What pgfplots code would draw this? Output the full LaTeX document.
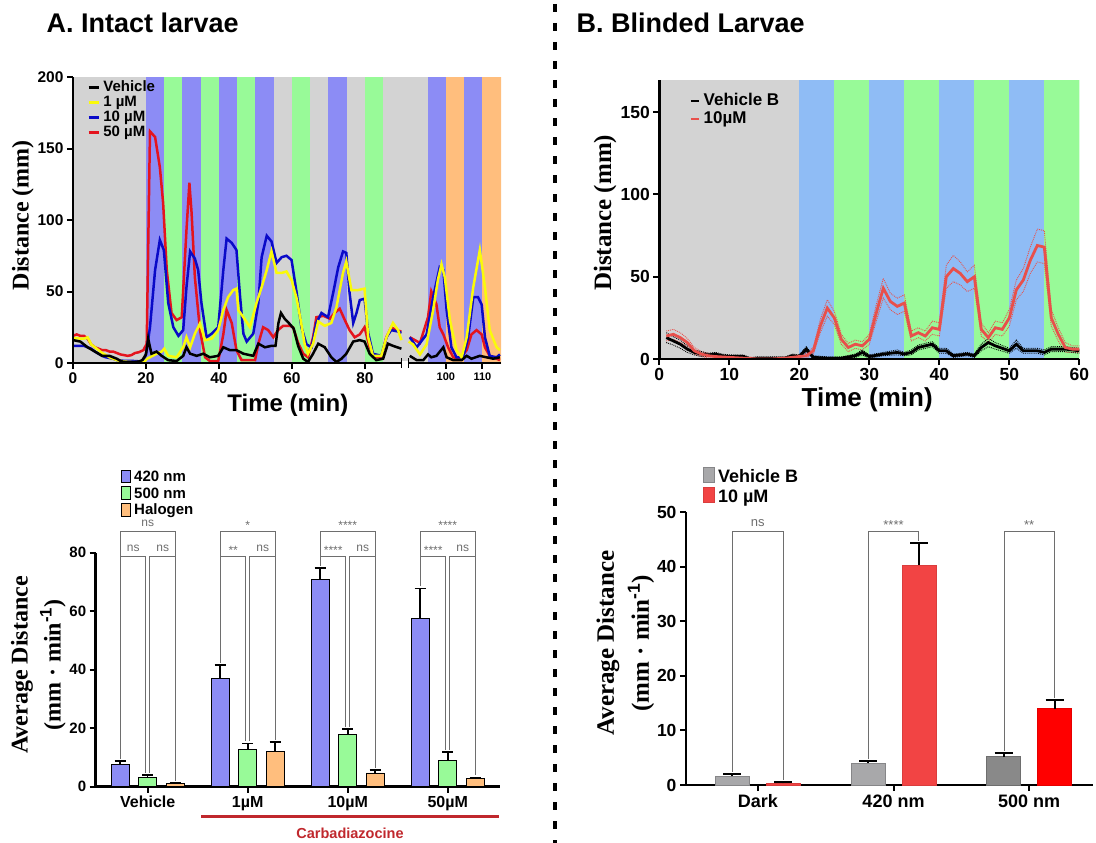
\documentclass[border=0pt]{standalone}
\usepackage{fontspec}
\setmainfont{Liberation Sans}
\newfontfamily\tnr{Liberation Serif}
\usepackage{pgfplots}
\pgfplotsset{compat=1.18}
\usepackage{pgfplotstable}

\newcommand\fs[1]{\fontsize{#1}{#1}\selectfont}

\definecolor{stblue}{RGB}{140,140,245}
\definecolor{stgreen}{RGB}{152,250,152}
\definecolor{storange}{RGB}{255,190,125}
\definecolor{stgray}{RGB}{211,211,211}
\definecolor{stblueB}{RGB}{143,188,245}
\definecolor{lnblue}{RGB}{10,10,200}
\definecolor{lnred}{RGB}{228,20,30}
\definecolor{lnyellow}{RGB}{250,250,10}
\definecolor{lnredB}{RGB}{232,80,75}
\definecolor{bargray}{RGB}{168,168,170}
\definecolor{bargrayd}{RGB}{137,137,137}
\definecolor{barred}{RGB}{242,68,68}
\definecolor{barredd}{RGB}{255,0,0}
\definecolor{carb}{RGB}{192,40,45}
\definecolor{brk}{RGB}{110,110,110}

% ---- panel A, time course (x = position on the broken axis)
\pgfplotstableread{
t v
0 16
1 15.5
2 15
3 13
4 11
5 9.5
6 8
7 6.5
8 5
9 5
10 5
11 4
12 3
13 1.5
14 0.7
16 0.7
17 0.7
18 1
19 2
20 6
20.6 17
21.5 6.5
22.9 8
24.3 5
26.1 2
28.4 1.4
30.2 5
31.1 11
32.1 6.5
33.9 5
35.7 6.5
37.5 4
39.8 5
41.2 11
43 9
44.8 9
46.7 6.5
49.4 5
50.8 13.5
52.6 11
54.4 12
55.5 12
56.3 28
57 35
58 31
59.5 27
60.5 24
61.7 12
63.1 3
64.4 0.7
65.8 6.5
67.2 13.5
69 11
70.8 4
72.2 0.7
73.6 3
74.9 6.5
76.8 15
78.6 16
79.9 15
81.3 6.5
83.1 2
85 3
86.3 13.5
87.7 12
90 10
91 nan
92.3 5
94.2 2
96 2
97.3 6
98.2 4
99.6 5
101.5 11
102.4 4
104.2 2
106.5 2
107.9 5
109.2 3
111.5 5
113.3 4
115.2 3
117 4
}\tVeh

\pgfplotstableread{
t v
0 17
1 17.5
2 17
3 17
4 18
5 13
6 11
7 9
8 7
9 5.5
10 4
11 3
12 2
14 1
16 0.7
18 0.7
19.5 0.7
20.3 3
21.1 4
22.9 6.5
24.3 8
25 10
26.1 5
28.4 4
30.2 11
31.1 18
32.1 11
33.4 20.5
34.8 27.6
36.2 16
38 17
39.8 23
41.2 37
42.5 46
43.9 51
44.8 52
45.3 37
46.7 32
48.5 25
50.3 42
51.7 53
53.1 65
54.4 78
55.8 63
57.2 63
58.5 64
59.9 58
61.3 45
62.4 30
63.5 13
64.4 6.5
65.8 13.5
67.2 29
69 26
70.8 28
72.2 39
74 63
74.9 71
76.3 51
78.1 51
79.9 52
80.9 18
82.2 5
84.5 5
85.9 18
87.7 28
89.1 23
90 16
91 nan
92 15
93.2 13
95.1 6
96.9 13
98.7 37
100 58
101 69
101.9 60
103.3 30
105.1 9
106.5 4
107.9 18
109.7 53
111.5 79
112.9 53
114.2 23
116.1 11
117 9
}\tYel

\pgfplotstableread{
t v
0 12
1 12
2 12
3 12
4 11
5 10
6 8
7 6.5
8 5
9 4
10 3.5
11 3
12 2
14 1.5
16 1.5
18 1.2
19.5 1
20.2 9
21.1 25
22.5 65
23.8 86
24.9 79
26.1 42
27.5 25
28.9 19
30.2 23
31.1 53
32.1 78
33.4 73
34.3 65
35.2 42
36.6 18
38 20.5
39.8 25
41.2 65
42.1 87
43.5 84
44.8 79
45.8 46
46.7 20.5
47.6 15
49.4 20.5
50.8 42
51.7 74
53.1 89
54.4 85
55.8 70
57.2 74
58.5 75
59.9 72
61.3 49
62.6 25
64 13
65.4 11
66.7 28
68.1 35
69.9 32
71.3 49
72.7 67
74 78
74.9 77
75.8 49
76.8 28
77.7 35
78.6 44
79.9 45
80.9 21
82.2 6.5
84.5 5
85.9 18
87.2 23
89.1 22
90 21
91 nan
92.3 18
94.2 11
96.9 20
98.7 46
100.5 67
101.5 65
102.4 37
103.7 11
105.1 4
106.9 4
108.3 18
109.7 46
111 46
112 41
112.9 18
114.2 5
116.1 4
117 6
}\tBlu

\pgfplotstableread{
t v
0 19
1 20
2 19
3 19
4 17
5 13
6 11
7 10
8 9
9 9
10 8
11 8
12 7
13 6
14 5.5
15 5
16 5.5
17 7
18 7.5
19.3 9
20.2 13.5
21.1 162
22.5 158
23.8 137
24.7 112
25.7 65
27 35
28.4 30
29.8 32
31.1 93
31.9 126
32.5 105
33.4 60
34.8 23
36.2 4
37.5 1.4
39.8 1.4
41.2 20
42.1 37
43.5 28
44.8 9
46.2 2
49.9 2
50.8 13.5
52.1 25
53.5 23
54.9 18
56.2 23
57.6 26
59.4 26
60.3 25
61.7 14
63.1 6.5
64.4 4
65.8 18
66.7 32
68.6 33
70.4 31
71.7 35
73.1 38
74.5 30
75.8 23
77.2 18
78.6 20
79.9 25
81.3 11
82.7 4
84.5 4
85.9 18
87.2 25
88.6 23
90 22
91 nan
92.3 18
95.1 14
97.3 32
98.2 50
99.6 41
100.5 25
101.5 20
102.8 11
104.2 4
106 3
107.9 9
109.2 20
110.6 23
112 20
112.9 11
114.2 5
116.1 3
117 2
}\tRed

% ---- panel B, time course: mean and SEM
\pgfplotstableread{
t m s
1 13 3
2 11 2.5
3 9 2.5
4 6 2
5 4 1.5
6 3 1.5
7 2.5 1
8 3 1
9 2 1
10 1.5 1
12 1.5 1
13 0 0.8
14 0.5 0.8
16 0.5 0.8
18 0.5 0.8
19 2 1
20 1.5 1
21 6 1.5
22 1 1
24 0.5 0.8
26 0.5 0.8
28 2 1
29 4 1.5
30 1.5 1
32 3 1
34 4 1.5
35 3 1
36 4 1.5
37 7 1.5
39 9 1.5
40 5 1.5
41 5 1.5
42 2 1
44 3 1
45 2 1
46 7 2
47 10 2.5
48 8 2
50 5 1.5
51 9 2.5
52 5 1.5
54 5 1.5
55 4 1.5
56 6 1.5
58 6 1.5
60 5 1.5
}\tBveh

\pgfplotstableread{
t m s
1 14 3
2 15 3
3 13 3
4 10 2.5
5 5 2
6 3 1.5
7 2 1.5
8 1.5 1
10 1 1
12 0.5 1
14 0 0.8
16 0 0.8
18 0.5 0.8
19 1 1
20 1.5 1
21 2 1.5
22 5 2
23 20 4
24 31 5
25 25 4
26 12 3
27 7 2.5
28 9 2.5
29 8 2.5
30 12 3
31 28 5
32 43 6
33 35 5
34 32 5
35 34 5
36 14 3
37 16 3
38 14 3
39 19 4
40 18 4
41 50 7
42 55 8
43 52 7
44 47 6
45 50 7
46 18 4
47 13 3
48 19 4
49 18 4
50 25 5
51 42 6
52 48 7
53 60 8
54 69 10
55 68 10
56 25 5
57 15 4
58 7 3
59 6 2
60 6 2
}\tBten

\pgfplotsset{
  base/.style={scale only axis, axis lines=left, axis line style={-, line width=2.5pt},
    tick align=outside, major tick length=6pt, tick style={line width=2pt, black},
    /pgf/number format/assume math mode=true},
}

% light stripe: from, to, top, colour
\newcommand\stripe[4]{\addplot[draw=#4, line width=0.3pt, fill=#4, forget plot] coordinates {(#1,#3) (#2,#3)} \closedcycle;}

% brackets for panel A bars: group, tops of blue/green/orange, labels
\newcommand\st[1]{\raisebox{-3pt}{#1}}
\newcommand\brA[7]{%
  \draw[brk, line width=0.8pt] ({#1-0.27},{#2+0.8}) -- ({#1-0.27},87.4) -- ({#1+0.28},87.4) -- ({#1+0.28},{#4+0.8});
  \draw[brk, line width=0.8pt] ({#1-0.27},78.9) -- ({#1-0.02},78.9) -- ({#1-0.02},{#3+0.8});
  \draw[brk, line width=0.8pt] ({#1+0.02},{#3+0.8}) -- ({#1+0.02},78.9) -- ({#1+0.28},78.9);
  \node[anchor=base, font=\mdseries\fs{12}, text=brk] at ({#1},88.9) {#5};
  \node[anchor=base, font=\mdseries\fs{12}, text=brk] at ({#1-0.145},80.5) {#6};
  \node[anchor=base, font=\mdseries\fs{12}, text=brk] at ({#1+0.15},80.5) {#7};
}
\newcommand\brB[4]{%
  \draw[brk, line width=0.8pt] ({#1-0.1865},{#2+0.4}) -- ({#1-0.1865},46.5) -- ({#1+0.1865},46.5) -- ({#1+0.1865},{#3+0.4});
  \node[anchor=base, font=\mdseries\fs{13}, text=brk] at ({#1},47.4) {#4};
}

\begin{document}
\bfseries
\begin{tikzpicture}
\path[use as bounding box] (0,0) rectangle (1096pt,-843pt);

\node[anchor=base west, font=\bfseries\fs{27}] at (43pt,-33pt) {A. Intact larvae};
\node[anchor=base west, font=\bfseries\fs{27}] at (573pt,-33pt) {B. Blinded Larvae};
\draw[line width=3.5pt, dash pattern=on 8pt off 11pt] (555pt,-4pt) -- (555pt,-843pt);

% ---------- A: time course
\begin{axis}[base, at={(73pt,-363pt)}, anchor=south west, width=428pt, height=286pt,
  xmin=0, xmax=117.3, ymin=0, ymax=200,
  xtick={0,20,40,60,80,102.2,112.2},
  xticklabels={0,20,40,60,80,{\fs{11}100},{\fs{11}110}},
  ytick={0,50,100,150,200},
  tick label style={font=\bfseries\fs{15.5}},
  unbounded coords=jump, axis on top,
  xlabel={Time (min)},
  xlabel style={at={(axis description cs:0.502,-0.147)}, anchor=center, font=\bfseries\fs{24}},
  ylabel={Distance (mm)},
  ylabel style={at={(axis description cs:-0.117,0.517)}, anchor=center, rotate=0, font=\tnr\bfseries\fs{24}},
  legend style={draw=none, fill=none, at={(0.026,0.9965)}, anchor=north west,
    font=\bfseries\fs{15}, nodes={inner sep=0.5pt, text height=11pt, text depth=3pt}, column sep=3pt},
  legend cell align=left, reverse legend,
  legend image code/.code={\draw[#1] (0pt,0pt) -- (10pt,0pt);},
]
\stripe{0}{20}{200}{stgray}
\stripe{20}{25}{200}{stblue}
\stripe{25}{30}{200}{stgreen}
\stripe{30}{35}{200}{stblue}
\stripe{35}{40}{200}{stgreen}
\stripe{40}{45}{200}{stblue}
\stripe{45}{50}{200}{stgreen}
\stripe{50}{55}{200}{stblue}
\stripe{55}{60}{200}{stgray}
\stripe{60}{65}{200}{stgreen}
\stripe{65}{70}{200}{stgray}
\stripe{70}{75}{200}{stblue}
\stripe{75}{80}{200}{stgray}
\stripe{80}{85}{200}{stgreen}
\stripe{85}{97.2}{200}{stgray}
\stripe{97.2}{102.2}{200}{stblue}
\stripe{102.2}{107.2}{200}{storange}
\stripe{107.2}{112.2}{200}{stblue}
\stripe{112.2}{117.3}{200}{storange}
\addplot[lnred, line width=2.5pt] table[x=t, y=v] {\tRed};
\addlegendentry{50 µM}
\addplot[lnblue, line width=2.5pt] table[x=t, y=v] {\tBlu};
\addlegendentry{10 µM}
\addplot[lnyellow, line width=2.5pt] table[x=t, y=v] {\tYel};
\addlegendentry{1 µM}
\addplot[black, line width=2.5pt] table[x=t, y=v] {\tVeh};
\addlegendentry{Vehicle}
\end{axis}
% axis break
\fill[white] (401.7pt,-360.8pt) rectangle (408.3pt,-365pt);
\draw[line width=1.5pt] (401.7pt,-358pt) -- (401.7pt,-368pt);
\draw[line width=1.5pt] (408.3pt,-358pt) -- (408.3pt,-368pt);

% ---------- B: time course
\begin{axis}[base, at={(659.3pt,-359pt)}, anchor=south west, width=420pt, height=279pt,
  xmin=0, xmax=60, ymin=0, ymax=169.6,
  xtick={0,10,...,60}, ytick={0,50,100,150},
  tick label style={font=\bfseries\fs{17.5}},
  axis on top,
  xlabel={Time (min)},
  xlabel style={at={(axis description cs:0.495,-0.147)}, anchor=center, font=\bfseries\fs{26}},
  ylabel={Distance (mm)},
  ylabel style={at={(axis description cs:-0.129,0.524)}, anchor=center, font=\tnr\bfseries\fs{25}},
  legend style={draw=none, fill=none, at={(0.064,0.965)}, anchor=north west,
    font=\bfseries\fs{17}, nodes={inner sep=0.5pt, text height=13pt, text depth=4pt}, column sep=3pt},
  legend cell align=left,
  legend image code/.code={\draw[#1] (0pt,0pt) -- (8pt,0pt);},
]
\stripe{0}{20}{169.6}{stgray}
\stripe{20}{25}{169.6}{stblueB}
\stripe{25}{30}{169.6}{stgreen}
\stripe{30}{35}{169.6}{stblueB}
\stripe{35}{40}{169.6}{stgreen}
\stripe{40}{45}{169.6}{stblueB}
\stripe{45}{50}{169.6}{stgreen}
\stripe{50}{55}{169.6}{stblueB}
\stripe{55}{60}{169.6}{stgreen}
\addplot[lnredB, densely dotted, line width=0.9pt, forget plot] table[x=t, y expr=\thisrow{m}+\thisrow{s}] {\tBten};
\addplot[lnredB, densely dotted, line width=0.9pt, forget plot] table[x=t, y expr=\thisrow{m}-\thisrow{s}] {\tBten};
\addplot[black, densely dotted, line width=0.9pt, forget plot] table[x=t, y expr=\thisrow{m}+\thisrow{s}] {\tBveh};
\addplot[black, densely dotted, line width=0.9pt, forget plot] table[x=t, y expr=\thisrow{m}-\thisrow{s}] {\tBveh};
\addplot[black, line width=2.8pt] table[x=t, y=m] {\tBveh};
\addlegendentry{Vehicle B}
\addplot[lnredB, line width=2.8pt] table[x=t, y=m] {\tBten};
\addlegendentry{10µM}
\end{axis}

% ---------- A: averages
\begin{axis}[base, at={(95.7pt,-786.7pt)}, anchor=south west, width=404.3pt, height=234pt,
  ybar, xmin=-0.52, xmax=3.523, ymin=0, ymax=80, clip=false,
  xtick={0,1,2,3}, xticklabels={Vehicle,1µM,10µM,50µM},
  ytick={0,20,40,60,80},
  x tick label style={font=\bfseries\fs{16}},
  y tick label style={font=\bfseries\fs{15}},
  error bars/y dir=plus, error bars/y explicit,
  error bars/error bar style={line width=1.6pt, black},
  error bars/error mark options={rotate=90, mark size=5.5pt, line width=1.6pt, black},
  ylabel={Average Distance\\(mm · min\textsuperscript{\rmfamily -1})},
  ylabel style={at={(axis description cs:-0.142,0.52)}, anchor=center, align=center,
    font=\tnr\bfseries\fontsize{24}{33}\selectfont},
  legend style={draw=none, fill=none, at={(0.055,1.365)}, anchor=north west,
    font=\bfseries\fs{15}, nodes={inner sep=0.8pt, text height=11.5pt, text depth=3.5pt}, column sep=3pt},
  legend cell align=left,
  legend image code/.code={\draw[#1] (0pt,-5pt) rectangle (8.5pt,7.5pt);},
]
\addplot[fill=stblue, draw=black, line width=0.8pt, bar width=17.7pt, bar shift=-27.5pt]
  coordinates {(0,7.7) +- (0,1.1) (1,37) +- (0,4.6) (2,71) +- (0,3.8) (3,57.5) +- (0,10.2)};
\addlegendentry{420 nm}
\addplot[fill=stgreen, draw=black, line width=0.8pt, bar width=17.7pt, bar shift=0pt]
  coordinates {(0,3.3) +- (0,0.7) (1,12.8) +- (0,2.0) (2,18) +- (0,1.7) (3,9) +- (0,2.9)};
\addlegendentry{500 nm}
\addplot[fill=storange, draw=black, line width=0.8pt, bar width=17.7pt, bar shift=27.5pt]
  coordinates {(0,1.0) +- (0,0.3) (1,12) +- (0,3.3) (2,4.7) +- (0,1.0) (3,2.7) +- (0,0.5)};
\addlegendentry{Halogen}
\brA{0}{8.8}{4.0}{1.3}{ns}{ns}{ns}
\brA{1}{41.6}{14.8}{15.3}{\st{*}}{\st{**}}{ns}
\brA{2}{74.8}{19.7}{5.7}{\st{****}}{\st{****}}{ns}
\brA{3}{67.7}{11.9}{3.2}{\st{****}}{\st{****}}{ns}
\draw[carb, line width=3pt] (0.533,-10.26) -- (3.513,-10.26);
\node[text=carb, font=\bfseries\fs{14.5}] at (2.023,-15.9) {Carbadiazocine};
\end{axis}

% ---------- B: averages
\begin{axis}[base, at={(686pt,-785pt)}, anchor=south west, width=407pt, height=272.7pt,
  ybar, xmin=-0.529, xmax=2.47, ymin=0, ymax=50, clip=false,
  xtick={0,1,2}, xticklabels={Dark,420 nm,500 nm},
  ytick={0,10,...,50},
  x tick label style={font=\bfseries\fs{18}},
  y tick label style={font=\bfseries\fs{17.5}},
  error bars/y dir=plus, error bars/y explicit,
  error bars/error bar style={line width=1.8pt, black},
  error bars/error mark options={rotate=90, mark size=9pt, line width=1.8pt, black},
  ylabel={Average Distance\\(mm · min\textsuperscript{\rmfamily -1})},
  ylabel style={at={(axis description cs:-0.149,0.52)}, anchor=center, align=center,
    font=\tnr\bfseries\fontsize{25}{35}\selectfont},
  legend style={draw=none, fill=none, at={(0.034,1.175)}, anchor=north west,
    font=\bfseries\fs{18}, nodes={inner sep=1pt, text height=14pt, text depth=4pt}, column sep=3pt},
  legend cell align=left,
  legend image code/.code={\fill[#1] (0pt,-5pt) rectangle (10.5pt,10pt);},
]
\addplot[fill=bargray, draw=bargray!80!black, line width=0.5pt, bar width=34pt, bar shift=-25.5pt]
  coordinates {(0,1.6) +- (0,0.4) (1,4.0) +- (0,0.4)};
\addlegendentry{Vehicle B}
\addplot[fill=barred, draw=barred!90!black, line width=0.5pt, bar width=34pt, bar shift=25.5pt]
  coordinates {(0,0.3) +- (0,0.2) (1,40.3) +- (0,4.0)};
\addlegendentry{10 µM}
\addplot[fill=bargrayd, draw=bargrayd!80!black, line width=0.5pt, bar width=34pt, bar shift=-25.5pt, forget plot]
  coordinates {(2,5.2) +- (0,0.7)};
\addplot[fill=barredd, draw=barredd!90!black, line width=0.5pt, bar width=34pt, bar shift=25.5pt, forget plot]
  coordinates {(2,14) +- (0,1.6)};
\brB{0}{2.0}{0.5}{ns}
\brB{1}{4.4}{44.3}{\st{****}}
\brB{2}{5.9}{15.6}{\st{**}}
\end{axis}
\end{tikzpicture}
\end{document}
